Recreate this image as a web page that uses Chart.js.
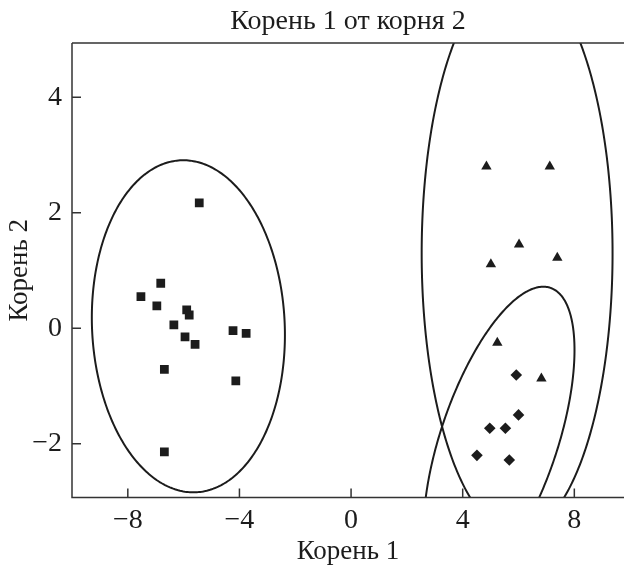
<!DOCTYPE html>
<html><head><meta charset="utf-8">
<script src="https://cdn.jsdelivr.net/npm/chart.js@4"></script>
<style>html,body{margin:0;padding:0;background:#fff}#wrap{width:624px;height:568px}</style>
</head><body><div id="wrap"><canvas id="c" width="624" height="568"></canvas></div>
<script>
// ---- data ----
const squaresX   = [-5.44, -6.82, -7.53, -6.96, -5.89, -5.80, -6.35, -5.95, -5.59, -4.23, -3.76, -6.69, -4.13, -6.69];
const squaresY   = [ 2.17,  0.78,  0.55,  0.39,  0.32,  0.23,  0.06, -0.15, -0.28, -0.04, -0.09, -0.71, -0.91, -2.14];
const trianglesX = [4.85, 7.12, 6.02, 5.01, 7.39, 5.24, 6.82];
const trianglesY = [2.80, 2.80, 1.45, 1.11, 1.22, -0.25, -0.87];
const diamondsX  = [5.92, 6.00, 4.97, 5.53, 4.51, 5.67];
const diamondsY  = [-0.81, -1.50, -1.73, -1.73, -2.20, -2.28];
const xTicks = [-8, -4, 0, 4, 8];
const yTicks = [-2, 0, 2, 4];
// ellipses: centre and two conjugate semi-axis vectors (data units)
const ellipseCX = [-5.83, 5.95, 5.30];
const ellipseCY = [0.035, 1.30, -1.94];
const ellipseAX = [-0.18, 0.00, 1.59];
const ellipseAY = [2.875, 4.86, 2.66];
const ellipseBX = [3.455, 3.42, 2.19];
const ellipseBY = [0.00, 0.00, 0.00];

const FONT = "'Liberation Serif', 'Times New Roman', serif";
const INK = '#1c1c1c';

const toPts = (xs, ys) => xs.map((x, i) => ({x, y: ys[i]}));
const fmt = v => v < 0 ? '\u2212' + Math.abs(v) : String(v);

const framePlugin = {
  id: 'frame',
  beforeDatasetsDraw(chart) {
    const {ctx, chartArea: a, scales: {x, y}} = chart;
    ctx.save();
    ctx.beginPath();
    ctx.rect(a.left, a.top, a.right - a.left, a.bottom - a.top);
    ctx.clip();
    ctx.strokeStyle = INK;
    ctx.lineWidth = 2;
    for (let k = 0; k < ellipseCX.length; k++) {
      ctx.beginPath();
      for (let i = 0; i <= 360; i++) {
        const t = i * Math.PI / 180;
        const vx = ellipseCX[k] + ellipseAX[k] * Math.cos(t) + ellipseBX[k] * Math.sin(t);
        const vy = ellipseCY[k] + ellipseAY[k] * Math.cos(t) + ellipseBY[k] * Math.sin(t);
        const px = x.getPixelForValue(vx), py = y.getPixelForValue(vy);
        if (i === 0) ctx.moveTo(px, py); else ctx.lineTo(px, py);
      }
      ctx.closePath();
      ctx.stroke();
    }
    ctx.restore();
  },
  afterDraw(chart) {
    const {ctx, chartArea: a, scales: {x, y}} = chart;
    ctx.save();
    ctx.strokeStyle = '#333';
    ctx.lineWidth = 1.5;
    ctx.beginPath();
    ctx.moveTo(a.left, a.top); ctx.lineTo(a.right, a.top);
    ctx.moveTo(a.left, a.top); ctx.lineTo(a.left, a.bottom); ctx.lineTo(a.right, a.bottom);
    xTicks.forEach(v => { const p = x.getPixelForValue(v); ctx.moveTo(p, a.bottom); ctx.lineTo(p, a.bottom - 9); });
    yTicks.forEach(v => { const p = y.getPixelForValue(v); ctx.moveTo(a.left, p); ctx.lineTo(a.left + 9, p); });
    ctx.stroke();
    ctx.restore();
  }
};

new Chart(document.getElementById('c'), {
  type: 'scatter',
  data: {
    datasets: [
      {label: 'squares', data: toPts(squaresX, squaresY), pointStyle: 'rect', pointRadius: 6.2, backgroundColor: INK, borderColor: INK, borderWidth: 0},
      {label: 'triangles', data: toPts(trianglesX, trianglesY), pointStyle: 'triangle', pointRadius: 6, backgroundColor: INK, borderColor: INK, borderWidth: 0},
      {label: 'diamonds', data: toPts(diamondsX, diamondsY), pointStyle: 'rectRot', pointRadius: 5.8, backgroundColor: INK, borderColor: INK, borderWidth: 0}
    ]
  },
  options: {
    responsive: false,
    animation: false,
    devicePixelRatio: 1,
    layout: {padding: 0, autoPadding: false},
    plugins: {
      legend: {display: false},
      tooltip: {enabled: false},
      title: {display: true, fullSize: false, text: 'Корень 1 от корня 2', color: INK,
              font: {family: FONT, size: 28, weight: 'normal', lineHeight: 1.2}, padding: {top: 4.8, bottom: 4.6}}
    },
    scales: {
      x: {
        type: 'linear', min: -10, max: 9.78,
        afterBuildTicks: s => { s.ticks = xTicks.map(v => ({value: v})); },
        afterFit: s => { s.height = 70.5; },
        grid: {display: false, drawTicks: false},
        border: {display: false},
        ticks: {color: INK, font: {family: FONT, size: 28}, padding: 6, callback: v => fmt(v), maxRotation: 0},
        title: {display: true, text: 'Корень 1', color: INK, font: {family: FONT, size: 27, lineHeight: 1.2}, padding: {top: 0, bottom: 0}}
      },
      y: {
        type: 'linear', min: -2.93, max: 4.94,
        afterBuildTicks: s => { s.ticks = yTicks.map(v => ({value: v})); },
        afterFit: s => { s.width = 72; },
        grid: {display: false, drawTicks: false},
        border: {display: false},
        ticks: {color: INK, font: {family: FONT, size: 28}, padding: 10, callback: v => fmt(v)},
        title: {display: true, text: 'Корень 2', color: INK, font: {family: FONT, size: 27, lineHeight: 1.2}, padding: {top: 3.7, bottom: 0}}
      }
    }
  },
  plugins: [framePlugin]
});
</script>
</body></html>
